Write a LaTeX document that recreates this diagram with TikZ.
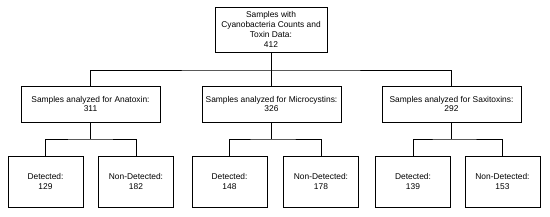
\documentclass[tikz,border=0pt]{standalone}
\usepackage{fontspec}
\setmainfont{Liberation Sans}
\begin{document}
\begin{tikzpicture}[x=1pt,y=-1pt,
  box/.style={draw=black,line width=0.9pt,rectangle,align=center,inner sep=0pt,
    font=\fontsize{8.4}{9.8}\selectfont},
  topbox/.style={box,minimum width=112pt,minimum height=45pt},
  midbox/.style={box,minimum width=139pt,minimum height=36pt},
  leafbox/.style={box,minimum width=75pt,minimum height=51pt},
  conn/.style={line width=0.9pt}]
\useasboundingbox (0,0) rectangle (550,217);
\node[topbox] (top) at (271,29.5) {Samples with\\Cyanobacteria Counts and\\Toxin Data:\\412};
\node[midbox] (ana) at (90.5,104) {Samples analyzed for Anatoxin:\\311};
\node[midbox] (mic) at (271.5,104) {Samples analyzed for Microcystins:\\326};
\node[midbox] (sax) at (451.5,104) {Samples analyzed for Saxitoxins:\\292};
\node[leafbox] (ad) at (45.5,181.5) {Detected:\\129};
\node[leafbox] (an) at (136,181.5) {Non-Detected:\\182};
\node[leafbox] (md) at (229.5,181.5) {Detected:\\148};
\node[leafbox] (mn) at (321,181.5) {Non-Detected:\\178};
\node[leafbox] (sd) at (413,181.5) {Detected:\\139};
\node[leafbox] (sn) at (502.5,181.5) {Non-Detected:\\153};
\coordinate (j1) at (271,70);
\coordinate (ja) at (90,139);
\coordinate (jm) at (271,139);
\coordinate (js) at (451.5,139);
\draw[conn] (top.south) -- (j1);
\draw[conn] (ana.north) |- (j1) -| (sax.north);
\draw[conn] (mic.north) -- (mic.north |- j1);
\draw[conn] (ana.south) -- (ana.south |- ja);
\draw[conn] (ad.north) |- (ja) -| (an.north);
\draw[conn] (mic.south) -- (mic.south |- jm);
\draw[conn] (md.north) |- (jm) -| (mn.north);
\draw[conn] (sax.south) -- (js);
\draw[conn] (sd.north) |- (js) -| (sn.north);
\end{tikzpicture}
\end{document}
